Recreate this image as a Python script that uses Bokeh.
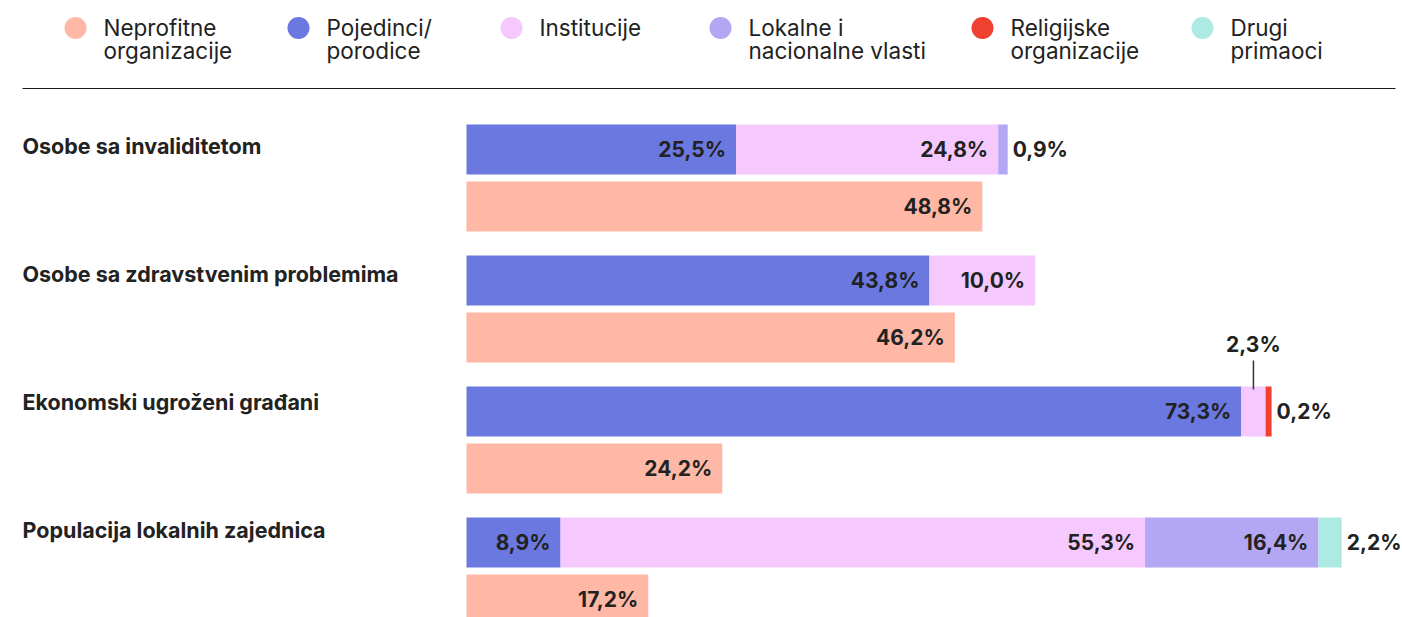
from bokeh.plotting import figure
from bokeh.models import Range1d, ColumnDataSource
from bokeh.core.properties import value
from bokeh.embed import file_html
from bokeh.resources import INLINE

# ---------------- data ----------------
categories = ["Osobe sa invaliditetom", "Osobe sa zdravstvenim problemima",
              "Ekonomski ugroženi građani", "Populacija lokalnih zajednica"]
series_names = ["Neprofitne\norganizacije", "Pojedinci/\nporodice", "Institucije",
                "Lokalne i\nnacionalne vlasti", "Religijske\norganizacije", "Drugi\nprimaoci"]
neprofitne = [48.8, 46.2, 24.2, 17.2]
pojedinci = [25.5, 43.8, 73.3, 8.9]
institucije = [24.8, 10.0, 2.3, 55.3]
lokalne = [0.9, 0.0, 0.0, 16.4]
religijske = [0.0, 0.0, 0.2, 0.0]
drugi = [0.0, 0.0, 0.0, 2.2]

colors = ["#FFB8A6", "#6B78E0", "#F5C9FD", "#B3A6F2", "#F04030", "#ADEAE3"]

# ---------------- layout ----------------
W, H = 1402, 617
PX_PER = 10.57         # pixels per percent
ZERO_PX = 466          # page x of 0%
MIN_SEG_PX = 6         # smallest drawn segment width
FONT = value("Inter")
TXT = "#222222"


def px(xpage):
    return (xpage - ZERO_PX) / PX_PER


def dpx(d):
    return d / PX_PER


x0 = px(0)
p = figure(width=W, height=H, output_backend="svg", toolbar_location=None,
           x_range=Range1d(x0, x0 + W / PX_PER), y_range=Range1d(H, 0),
           min_border=0, outline_line_color=None)
p.axis.visible = False
p.grid.visible = False
p.background_fill_color = "white"
p.border_fill_color = "white"

# ---------------- legend ----------------
leg_circle_px = [75, 298, 511, 720, 982, 1202]
for i, name in enumerate(series_names):
    cx = px(leg_circle_px[i])
    p.scatter([cx], [27.5], size=22, color=colors[i], line_color=None)
    lines = name.split("\n")
    for j, ln in enumerate(lines):
        p.text([cx + dpx(28)], [27 + 23 * j], text=[ln], text_font=FONT,
               text_font_size="22.5px", text_color=TXT, text_baseline="middle",
               text_align="left")

p.segment([px(22)], [88], [px(1395)], [88], line_color="#1a1a1a", line_width=1.2)

# ---------------- bars ----------------
def fmt(v):
    return f"{v:.1f}".replace(".", ",") + "%"


stack = [pojedinci, institucije, lokalne, religijske, drugi]
stack_colors = colors[1:]
BAR_H = 50
VAL_FS = "21px"
for g, cat in enumerate(categories):
    top_y = 149 + g * 131
    bot_y = 206 + g * 131
    p.text([px(22)], [145 + g * 128], text=[cat], text_font=FONT,
           text_font_size="21.5px", text_font_style="bold", text_color=TXT,
           text_baseline="middle")
    # stacked top bar
    left = 0.0
    segs = []
    for s, arr in enumerate(stack):
        v = arr[g]
        if v > 0:
            w = max(v, dpx(MIN_SEG_PX))
            segs.append((left, left + w, v, stack_colors[s]))
            left += w
    src = ColumnDataSource(dict(y=[top_y] * len(segs), l=[a for a, _, _, _ in segs],
                                r=[b for _, b, _, _ in segs], c=[c for _, _, _, c in segs]))
    p.hbar(y="y", left="l", right="r", height=BAR_H, fill_color="c", line_color=None, source=src)
    for k, (a, b, v, c) in enumerate(segs):
        last = k == len(segs) - 1
        if v >= 5:
            p.text([b - dpx(10)], [top_y], text=[fmt(v)], text_font=FONT, text_font_size=VAL_FS,
                   text_font_style="bold", text_color=TXT, text_align="right", text_baseline="middle")
        elif last:
            p.text([b + dpx(5)], [top_y], text=[fmt(v)], text_font=FONT, text_font_size=VAL_FS,
                   text_font_style="bold", text_color=TXT, text_align="left", text_baseline="middle")
        else:
            mid = (a + b) / 2
            p.segment([mid], [top_y - BAR_H / 2 - 26], [mid], [top_y - BAR_H / 2 + 3],
                      line_color="#333333", line_width=1.5)
            p.text([mid], [top_y - BAR_H / 2 - 42], text=[fmt(v)], text_font=FONT,
                   text_font_size=VAL_FS, text_font_style="bold", text_color=TXT,
                   text_align="center", text_baseline="middle")
    # neprofitne bar
    v = neprofitne[g]
    p.hbar(y=[bot_y], left=[0], right=[v], height=BAR_H, fill_color=colors[0], line_color=None)
    p.text([v - dpx(10)], [bot_y], text=[fmt(v)], text_font=FONT, text_font_size=VAL_FS,
           text_font_style="bold", text_color=TXT, text_align="right", text_baseline="middle")

open("out.html", "w").write(file_html(p, INLINE))
